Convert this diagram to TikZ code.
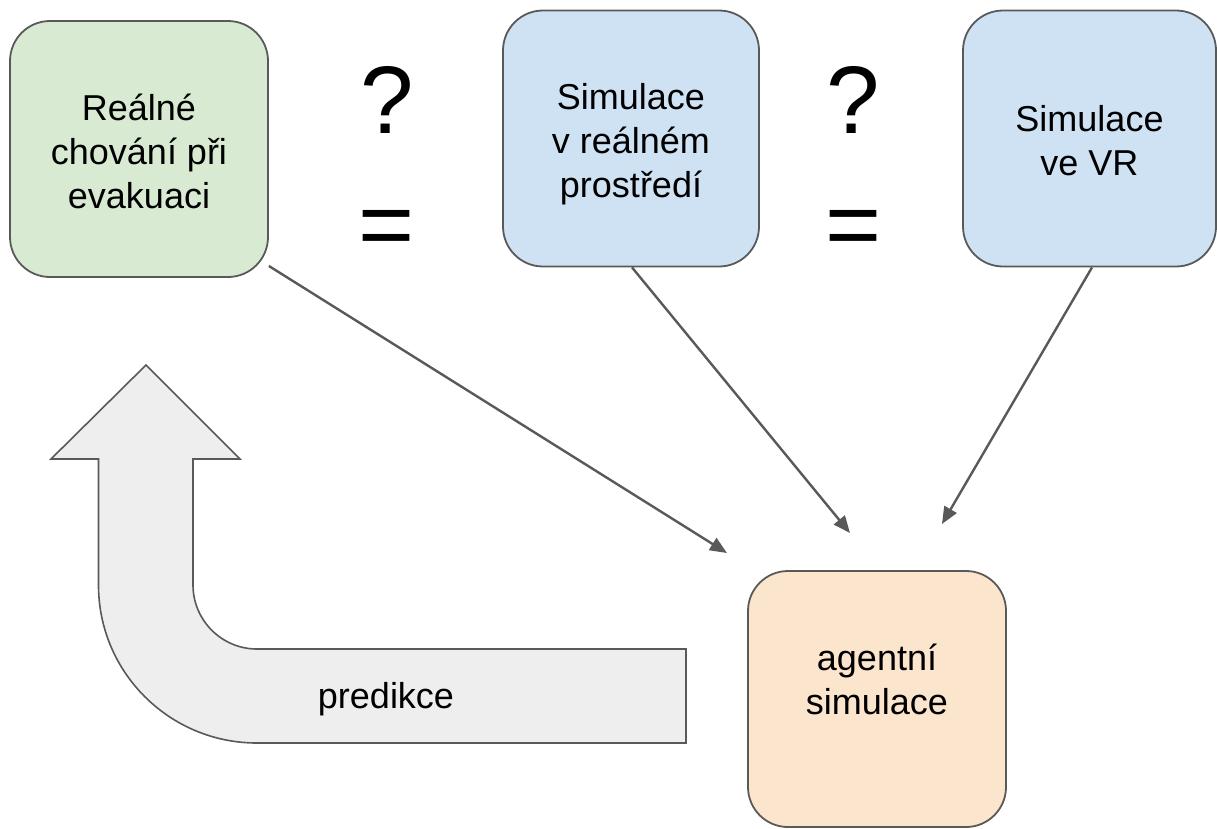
\documentclass[tikz,border=0pt]{standalone}
\usepackage{fontspec}
\setmainfont{Liberation Sans}
\usetikzlibrary{arrows.meta}
\definecolor{gfill}{HTML}{D9EAD3}
\definecolor{bfill}{HTML}{CFE2F3}
\definecolor{ofill}{HTML}{FCE5CD}
\definecolor{afill}{HTML}{EEEEEE}
\definecolor{edgec}{HTML}{595959}
\begin{document}
\begin{tikzpicture}[x=1pt,y=-1pt,
  box/.style={draw=edgec, line width=1.8pt, rounded corners=40pt, minimum width=256pt, minimum height=256pt, inner sep=0pt},
  lbl/.style={font=\fontsize{36}{44}\selectfont, align=center, text=black, inner sep=0pt},
  bigsym/.style={font=\fontsize{96}{110}\selectfont, text=black, inner sep=0pt},
  conn/.style={draw=edgec, line width=2.4pt, -{Triangle[length=17pt,width=14pt]}},
  bigarrow/.style={draw=edgec, fill=afill, line width=1.6pt}]
\useasboundingbox (0,0) rectangle (1217,828);

% big bent arrow
\draw[bigarrow] (146,365) -- (240,459) -- (193,459) -- (193,585)
  .. controls (193,620.3) and (221.7,649) .. (257,649) -- (686,649) -- (686,743) -- (257,743)
  .. controls (169.5,743) and (98.5,672.5) .. (98.5,585) -- (98.5,459) -- (51,459) -- cycle;
\node[lbl] (pred) at (386,699) {predikce};

% boxes
\node[box, fill=gfill, minimum width=258pt] (real) at (139,149) {};
\node[box, fill=bfill] (simr) at (631,138.5) {};
\node[box, fill=bfill, minimum width=253pt] (simvr) at (1089.5,138.5) {};
\node[box, fill=ofill, minimum width=258pt] (agent) at (877,699) {};

\node[lbl] (realt) at (139,151) {Reálné\\chování při\\evakuaci};
\node[lbl] (simrt) at (631,144.5) {Simulace\\v reálném\\prostředí};
\node[lbl] (simvrt) at (1089.5,140.5) {Simulace\\ve VR};
\node[lbl] (agentt) at (877,679.5) {agentní\\simulace};

% question marks and equals
\node[bigsym] (q1) at (387,100) {?};
\node[bigsym] (e1) at (387,234) {=};
\node[bigsym] (q2) at (853,100) {?};
\node[bigsym] (e2) at (854,234) {=};

% connectors
\coordinate (t1) at (727,553);
\coordinate (t2) at (850,533);
\coordinate (t3) at (942,524);
\draw[conn] (real.-42) -- (t1);
\draw[conn] ([xshift=1pt]simr.south) -- (t2);
\draw[conn] ([xshift=2.5pt]simvr.south) -- (t3);
\end{tikzpicture}
\end{document}
